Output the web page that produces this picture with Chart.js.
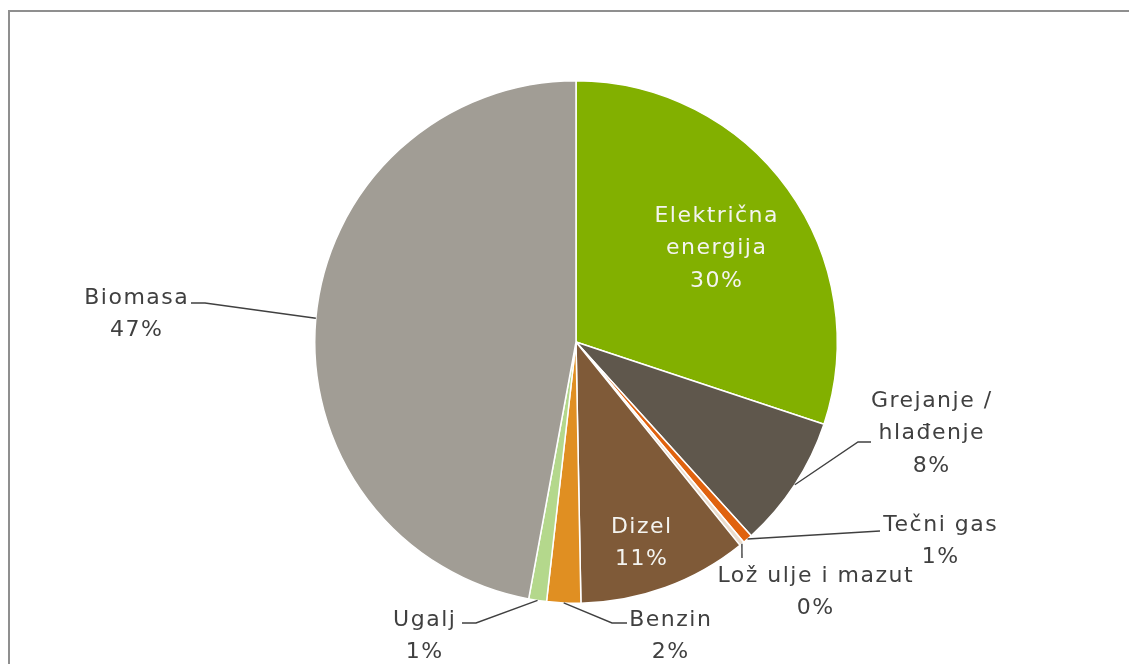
<!DOCTYPE html>
<html>
<head>
<meta charset="utf-8">
<script src="https://cdn.jsdelivr.net/npm/chart.js@4/dist/chart.umd.min.js"></script>
<style>
  html, body { margin: 0; padding: 0; background: #fff; overflow: hidden; }
  #wrap { position: relative; width: 1129px; height: 664px; }
  #frame { position: absolute; left: 8px; top: 10px; width: 1200px; height: 700px;
           border-top: 2px solid #8f8f8f; border-left: 2px solid #8f8f8f; }
  canvas { position: absolute; left: 0; top: 0; }
</style>
</head>
<body>
<div id="wrap">
  <div id="frame"></div>
  <canvas id="pieChart" width="1129" height="664"></canvas>
</div>
<script>
// data
const categories = ['Električna energija', 'Grejanje / hlađenje', 'Tečni gas', 'Lož ulje i mazut', 'Dizel', 'Benzin', 'Ugalj', 'Biomasa'];
const shares = [30.1, 8.2, 0.6, 0.3, 10.5, 2.1, 1.1, 47.1];
const sliceColors = ['#82b000', '#5f574c', '#e0620e', '#eadccd', '#7f5a38', '#e08f22', '#b4d88c', '#a19d95'];

// label layout: text lines, first line position, leader elbow + end (null = no leader)
const labelLayout = [
  { lines: ['Električna', 'energija'], x: 716, y: 216, color: '#f4f4f0', leader: null },
  { lines: ['Grejanje /', 'hlađenje'], x: 931, y: 401, color: '#404040', leader: [[858, 442], [871, 442]] },
  { lines: ['Tečni gas'], x: 940, y: 525, color: '#404040', leader: [[880, 531]] },
  { lines: ['Lož ulje i mazut'], x: 815, y: 576, color: '#404040', leader: [[742, 558]] },
  { lines: ['Dizel'], x: 641, y: 527, color: '#f4f4f0', leader: null },
  { lines: ['Benzin'], x: 670, y: 620, color: '#404040', leader: [[612, 623], [627, 623]] },
  { lines: ['Ugalj'], x: 424, y: 620, color: '#404040', leader: [[476, 623], [462, 623]] },
  { lines: ['Biomasa'], x: 136, y: 298, color: '#404040', leader: [[205, 303], [191, 303]] }
];

const lineH = 32.5;

const labelPlugin = {
  id: 'pieLabels',
  afterDraw(chart) {
    const ctx = chart.ctx;
    const arcs = chart.getDatasetMeta(0).data;
    ctx.save();
    ctx.font = '22px "DejaVu Sans"';
    ctx.letterSpacing = '1.5px';
    ctx.textAlign = 'center';
    ctx.textBaseline = 'middle';
    arcs.forEach((arc, i) => {
      const lay = labelLayout[i];
      const p = arc.getProps(['x', 'y', 'startAngle', 'endAngle', 'outerRadius'], true);
      if (lay.leader) {
        const mid = (p.startAngle + p.endAngle) / 2;
        ctx.beginPath();
        ctx.moveTo(p.x + Math.cos(mid) * p.outerRadius, p.y + Math.sin(mid) * p.outerRadius);
        lay.leader.forEach(pt => ctx.lineTo(pt[0], pt[1]));
        ctx.strokeStyle = '#404040';
        ctx.lineWidth = 1.4;
        ctx.stroke();
      }
      const pct = Math.round(shares[i]) + '%';
      const lines = lay.lines.concat([pct]);
      ctx.fillStyle = lay.color;
      // shift by half the trailing letter spacing so text stays centred
      lines.forEach((t, k) => ctx.fillText(t, lay.x + 0.75, lay.y + k * lineH));
    });
    ctx.restore();
  }
};

const ctx = document.getElementById('pieChart').getContext('2d');
new Chart(ctx, {
  type: 'pie',
  data: {
    labels: categories,
    datasets: [{
      data: shares,
      backgroundColor: sliceColors,
      borderColor: '#ffffff',
      borderWidth: 1.5
    }]
  },
  options: {
    responsive: false,
    animation: false,
    layout: { padding: { top: 80, bottom: 60, left: 314, right: 291 } },
    plugins: {
      legend: { display: false },
      tooltip: { enabled: false }
    }
  },
  plugins: [labelPlugin]
});
</script>
</body>
</html>
